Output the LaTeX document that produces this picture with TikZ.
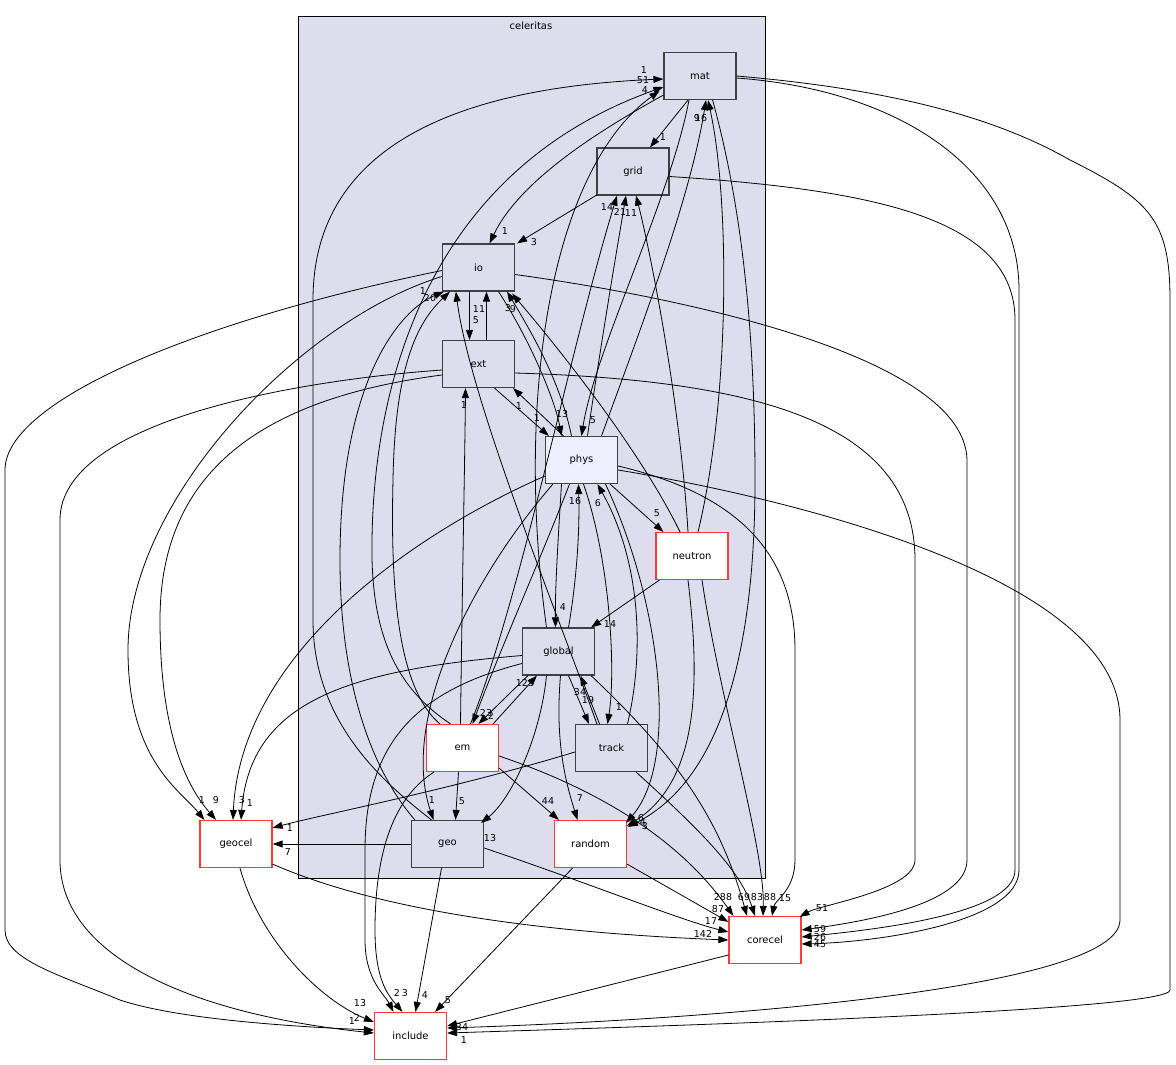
\documentclass[tikz,border=0pt]{standalone}
\usepackage{fontspec}
\setmainfont{DejaVu Sans}
\usetikzlibrary{arrows.meta,calc}
\definecolor{clfill}{HTML}{DDDDEE}
\definecolor{phfill}{HTML}{EEEEFF}
\definecolor{dborder}{HTML}{404040}
\definecolor{rborder}{HTML}{FF3A3A}
\tikzset{
  dn/.style={draw=dborder, fill=clfill, line width=1.2bp, minimum width=72bp, minimum height=47bp, inner sep=0pt, font=\fontsize{10}{12}\selectfont},
  xn/.style={dn, draw=rborder, fill=white},
  e/.style={-{Triangle[length=10bp,width=7bp]}, line width=0.8bp, black},
  lb/.style={font=\fontsize{9.5}{11}\selectfont, inner sep=0pt},
}
\begin{document}
\begin{tikzpicture}[x=1bp,y=-1bp]
\useasboundingbox[fill=white] (0,0) rectangle (1176,1065);
\draw[fill=clfill, line width=0.8bp] (298.5,16.5) rectangle (765.5,878.5);
\node[lb, font=\fontsize{10}{12}\selectfont] (cl) at (531,26) {celeritas};
% nodes
\node[dn] (mat) at (700,76) {mat};
\node[dn] (grid) at (633,171.5) {grid};
\node[dn] (io) at (478.5,267.5) {io};
\node[dn] (ext) at (478.5,364) {ext};
\node[dn, fill=phfill] (phys) at (581.5,460) {phys};
\node[xn] (neutron) at (692,556) {neutron};
\node[dn] (global) at (558.5,651.5) {global};
\node[xn] (em) at (462.5,748) {em};
\node[dn] (track) at (611.5,748) {track};
\node[dn] (geo) at (447.5,844) {geo};
\node[xn] (random) at (590.5,844) {random};
\node[xn] (geocel) at (236,844) {geocel};
\node[xn] (corecel) at (765,940) {corecel};
\node[xn] (include) at (410.5,1036) {include};
% mat
\draw[e] ($(mat.south)+(-12,0)$) -- ($(grid.north)+(17,0)$);
\node[lb] (l1) at (663,137) {1};
\draw[e] ($(mat.south west)+(0,-5)$) .. controls (600,130) and (520,180) .. ($(io.north)+(11,0)$);
\node[lb] (l2) at (505,231) {1};
\draw[e] ($(mat.south)+(-11,0)$) .. controls (670,200) and (595,350) .. (phys.north);
\node[lb] (l3) at (593,420) {5};
\draw[e] ($(mat.south east)+(-24,0)$) .. controls (740,200) and (755,320) .. (755,480) .. controls (755,700) and (700,790) .. ($(random.north east)+(1,7)$);
\node[lb] (l4) at (645,826) {3};
\draw[e] ($(mat.east)+(0,2)$) .. controls (900,90) and (1019,170) .. (1019,290) -- (1019,870) .. controls (1019,922) and (880,942) .. ($(corecel.east)+(0,4)$);
\node[lb] (l5) at (820,944) {45};
\draw[e] (mat.east) .. controls (900,90) and (1000,120) .. (1070,160) .. controls (1150,200) and (1170,220) .. (1170,300) -- (1170,990) .. controls (1170,1010) and (700,1025) .. ($(include.east)+(0,-3)$);
\node[lb] (l6) at (464,1040) {1};
% grid
\draw[e] ($(grid.south west)+(1,-1)$) -- ($(io.north east)+(2,0)$);
\node[lb] (l7) at (534,242) {3};
\draw[e] ($(grid.east)+(0,5)$) .. controls (880,190) and (1015,220) .. (1015,320) -- (1015,870) .. controls (1015,915) and (870,930) .. ($(corecel.east)+(0,-3)$);
\node[lb] (l8) at (820,937) {26};
% io
\draw[e] ($(io.south)+(-9,0)$) -- ($(ext.north)+(-9,0)$);
\node[lb] (l9) at (476,320) {5};
\draw[e] ($(ext.north)+(8,0)$) -- ($(io.south)+(8,0)$);
\node[lb] (l10) at (479,309) {11};
\draw[e] ($(io.south)+(20,0)$) .. controls (530,340) and (555,400) .. ($(phys.north)+(-20,0)$);
\node[lb] (l11) at (562,414) {13};
\draw[e] ($(phys.north)+(-10,0)$) .. controls (560,380) and (530,330) .. ($(io.south east)+(-8,0)$);
\node[lb] (l12) at (508,308) {3};
\draw[e] ($(io.west)+(0,3)$) .. controls (200,320) and (5,400) .. (5,470) -- (5,930) .. controls (5,960) and (60,975) .. (120,1000) .. controls (180,1020) and (300,1027) .. ($(include.west)+(0,-6)$);
\node[lb] (l13) at (352,1021) {1};
\draw[e] ($(io.west)+(0,9)$) .. controls (300,320) and (128,500) .. (128,650) .. controls (128,760) and (180,790) .. ($(geocel.north west)+(5,0)$);
\node[lb] (l14) at (202,800) {1};
\draw[e] ($(io.east)+(0,7)$) .. controls (700,300) and (965,360) .. (967,460) -- (967,860) .. controls (967,905) and (860,922) .. ($(corecel.east)+(0,-10)$);
\node[lb] (l68) at (820,929) {59};
% ext
\draw[e] ($(ext.south)+(16,0)$) -- ($(phys.north west)+(4,0)$);
\node[lb] (l15) at (537,418) {1};
\draw[e] ($(phys.north)+(-18,0)$) -- ($(ext.south east)+(-2,0)$);
\node[lb] (l16) at (519,406) {1};
\draw[e] ($(ext.west)+(0,6)$) .. controls (300,380) and (60,420) .. (60,520) -- (60,860) .. controls (60,960) and (200,1015) .. ($(include.west)+(0,-3)$);
\node[lb] (l17) at (357,1018) {2};
\draw[e] ($(ext.west)+(0,11)$) .. controls (250,400) and (160,480) .. (160,620) .. controls (160,740) and (190,790) .. ($(geocel.north)+(-20,0)$);
\node[lb] (l18) at (216,800) {9};
\draw[e] ($(ext.east)+(0,9)$) .. controls (750,380) and (915,420) .. (915,560) -- (915,860) .. controls (915,890) and (820,905) .. ($(corecel.north east)+(-2,1)$);
\node[lb] (l19) at (822,908) {51};
% phys
\draw[e] ($(phys.north)+(20,0)$) .. controls (640,330) and (690,200) .. ($(mat.south)+(6,0)$);
\node[lb] (l20) at (701,118) {16};
\draw[e] ($(phys.north)+(6,0)$) .. controls (600,350) and (615,260) .. ($(grid.south)+(-7,0)$);
\node[lb] (l21) at (620,212) {21};
\draw[e] ($(phys.south east)+(-8,0)$) -- ($(neutron.north west)+(8,0)$);
\node[lb] (l22) at (657,513) {5};
\draw[e] ($(phys.south)+(-20,0)$) .. controls (558,540) and (555,590) .. ($(global.north)+(-3,0)$);
\node[lb] (l23) at (563,607) {4};
\draw[e] ($(global.north)+(10,0)$) .. controls (575,590) and (580,540) .. ($(phys.south)+(-3,0)$);
\node[lb] (l24) at (575,501) {16};
\draw[e] ($(phys.south)+(2,0)$) .. controls (610,560) and (616,670) .. ($(track.north)+(-4,0)$);
\node[lb] (l25) at (619,707) {1};
\draw[e] ($(track.north)+(16,0)$) .. controls (645,650) and (640,560) .. ($(phys.south)+(16,0)$);
\node[lb] (l26) at (598,503) {6};
\draw[e] ($(phys.south)+(24,0)$) .. controls (660,600) and (680,760) .. ($(random.north east)+(-1,3)$);
\node[lb] (l27) at (641,818) {6};
\draw[e] ($(phys.south)+(-12,0)$) .. controls (540,560) and (500,650) .. ($(em.north)+(10,0)$);
\node[lb] (l28) at (486,713) {23};
\draw[e] ($(phys.south west)+(8,0)$) .. controls (470,580) and (400,720) .. ($(geo.north)+(-14,0)$);
\node[lb] (l29) at (432,800) {1};
\draw[e] ($(phys.west)+(0,16)$) .. controls (400,540) and (240,660) .. ($(geocel.north)+(-3,0)$);
\node[lb] (l30) at (242,800) {3};
\draw[e] ($(phys.east)+(0,6)$) .. controls (720,490) and (795,540) .. (795,650) -- (795,860) .. controls (795,890) and (775,900) .. ($(corecel.north)+(7,0)$);
\node[lb] (l31) at (785,898) {15};
\draw[e] ($(phys.east)+(0,10)$) .. controls (800,500) and (1120,580) .. (1120,720) -- (1120,920) .. controls (1120,990) and (700,1020) .. ($(include.east)+(0,-8)$);
\node[lb] (l32) at (462,1027) {34};
% global
\draw[e] ($(global.north)+(-12,0)$) .. controls (515,400) and (550,170) .. ($(mat.west)+(-4,15)$);
\node[lb] (l33) at (645,90) {4};
\draw[e] ($(global.south west)+(6,0)$) -- ($(em.north)+(16,0)$);
\node[lb] (l34) at (491,716) {2};
\draw[e] ($(em.north east)+(-6,0)$) -- ($(global.south west)+(15,0)$);
\node[lb] (l35) at (525,683) {123};
\draw[e] ($(global.south)+(10,0)$) -- ($(track.north west)+(14,0)$);
\node[lb] (l36) at (588,700) {19};
\draw[e] ($(track.north)+(-12,0)$) -- ($(global.south)+(22,0)$);
\node[lb] (l37) at (580,692) {34};
\draw[e] ($(global.south)+(2,0)$) .. controls (555,740) and (565,780) .. ($(random.north)+(-13,0)$);
\node[lb] (l38) at (580,798) {7};
\draw[e] ($(global.south)+(-12,0)$) .. controls (540,740) and (510,800) .. ($(geo.north east)+(-3,3)$);
\node[lb] (l39) at (490,838) {13};
\draw[e] ($(global.west)+(0,4)$) .. controls (350,670) and (250,700) .. ($(geocel.north)+(5,0)$);
\node[lb] (l40) at (250,803) {1};
\draw[e] ($(global.west)+(0,12)$) .. controls (420,690) and (365,740) .. (365,850) -- (365,940) .. controls (365,980) and (385,995) .. ($(include.north)+(-17,0)$);
\node[lb] (l41) at (397,993) {2};
\draw[e] ($(global.south east)+(-4,0)$) .. controls (680,760) and (720,820) .. ($(corecel.north)+(-18,0)$);
\node[lb] (l42) at (744,897) {69};
% em
\draw[e] ($(em.north)+(-2,0)$) .. controls (462,600) and (465,450) .. ($(ext.south)+(-13,0)$);
\node[lb] (l43) at (464,405) {1};
\draw[e] ($(em.north west)+(14,0)$) .. controls (400,690) and (390,600) .. (393,480) .. controls (395,360) and (420,320) .. ($(io.south west)+(8,0)$);
\node[lb] (l44) at (430,298) {20};
\draw[e] ($(em.north)+(8,0)$) .. controls (520,600) and (570,350) .. ($(grid.south)+(-16,0)$);
\node[lb] (l45) at (607,207) {14};
\draw[e] ($(em.north)+(-12,0)$) .. controls (400,690) and (370,640) .. (372,540) .. controls (374,380) and (430,170) .. ($(mat.west)+(0,11)$);
\node[lb] (l46) at (643,80) {51};
\draw[e] ($(em.south)+(-4,0)$) -- ($(geo.north)+(8,0)$);
\node[lb] (l47) at (462,801) {5};
\draw[e] ($(em.south east)+(0,-4)$) -- ($(random.north west)+(5,0)$);
\node[lb] (l48) at (548,801) {44};
\draw[e] ($(em.east)+(0,8)$) .. controls (600,790) and (680,840) .. ($(corecel.north west)+(5,0)$);
\node[lb] (l49) at (723,897) {288};
\draw[e] ($(em.south west)+(8,0)$) .. controls (390,800) and (375,860) .. (375,930) .. controls (375,980) and (388,995) .. ($(include.north)+(-8,0)$);
\node[lb] (l50) at (405,993) {3};
% geo
\draw[e] ($(geo.north)+(-16,0)$) .. controls (380,780) and (313,720) .. (313,620) -- (313,300) .. controls (313,150) and (450,88) .. ($(mat.west)+(0,3)$);
\node[lb] (l51) at (644,70) {1};
\draw[e] ($(geo.north west)+(4,0)$) .. controls (380,780) and (340,700) .. (340,560) .. controls (340,380) and (400,310) .. ($(io.south west)+(2,0)$);
\node[lb] (l52) at (423,291) {1};
\draw[e] (geo.west) -- (geocel.east);
\node[lb] (l53) at (288,852) {7};
\draw[e] ($(geo.east)+(0,4)$) .. controls (580,880) and (680,920) .. ($(corecel.west)+(0,-8)$);
\node[lb] (l54) at (711,921) {17};
\draw[e] ($(geo.south)+(-6,0)$) -- ($(include.north)+(5,0)$);
\node[lb] (l55) at (425,995) {4};
% track
\draw[e] ($(track.north west)+(22,0)$) .. controls (560,620) and (470,400) .. ($(io.south west)+(14,0)$);
\draw[e] ($(track.west)+(0,4)$) .. controls (450,790) and (320,815) .. ($(geocel.north east)+(0,8)$);
\node[lb] (l56) at (290,828) {1};
\draw[e] ($(track.south east)+(-12,0)$) .. controls (700,830) and (740,870) .. ($(corecel.north)+(-10,0)$);
\node[lb] (l57) at (757,897) {83};
% random
\draw[e] ($(random.south east)+(0,-4)$) -- ($(corecel.north west)+(0,6)$);
\node[lb] (l58) at (718,909) {87};
\draw[e] ($(random.south)+(-18,0)$) -- ($(include.north east)+(-12,0)$);
\node[lb] (l59) at (448,1000) {5};
% neutron
\draw[e] ($(neutron.south west)+(4,0)$) -- ($(global.north east)+(-4,0)$);
\node[lb] (l60) at (610,624) {14};
\draw[e] ($(neutron.north)+(6,0)$) .. controls (730,400) and (730,200) .. ($(mat.south)+(8,0)$);
\node[lb] (l61) at (697,118) {9};
\draw[e] ($(neutron.north)+(-4,0)$) .. controls (680,400) and (650,250) .. ($(grid.south)+(3,0)$);
\node[lb] (l62) at (631,213) {11};
\draw[e] ($(neutron.north)+(-12,0)$) .. controls (640,450) and (560,350) .. ($(io.south east)+(-3,2)$);
\node[lb] (l63) at (513,309) {9};
\draw[e] ($(neutron.south)+(-4,0)$) .. controls (700,680) and (700,780) .. ($(random.north east)+(0,6)$);
\node[lb] (l64) at (643,822) {4};
\draw[e] ($(neutron.south)+(10,0)$) .. controls (720,700) and (765,850) .. ($(corecel.north)+(-2,0)$);
\node[lb] (l65) at (770,897) {88};
% geocel
\draw[e] ($(geocel.south)+(4,0)$) .. controls (260,940) and (320,1000) .. ($(include.west)+(0,-14)$);
\node[lb] (l66) at (360,1003) {13};
\draw[e] ($(geocel.south east)+(0,-4)$) .. controls (400,920) and (600,935) .. (corecel.west);
\node[lb] (l67) at (703,934) {142};
% corecel
\draw[e] ($(corecel.west)+(0,15)$) -- ($(include.east)+(0,-10)$);
\end{tikzpicture}
\end{document}
